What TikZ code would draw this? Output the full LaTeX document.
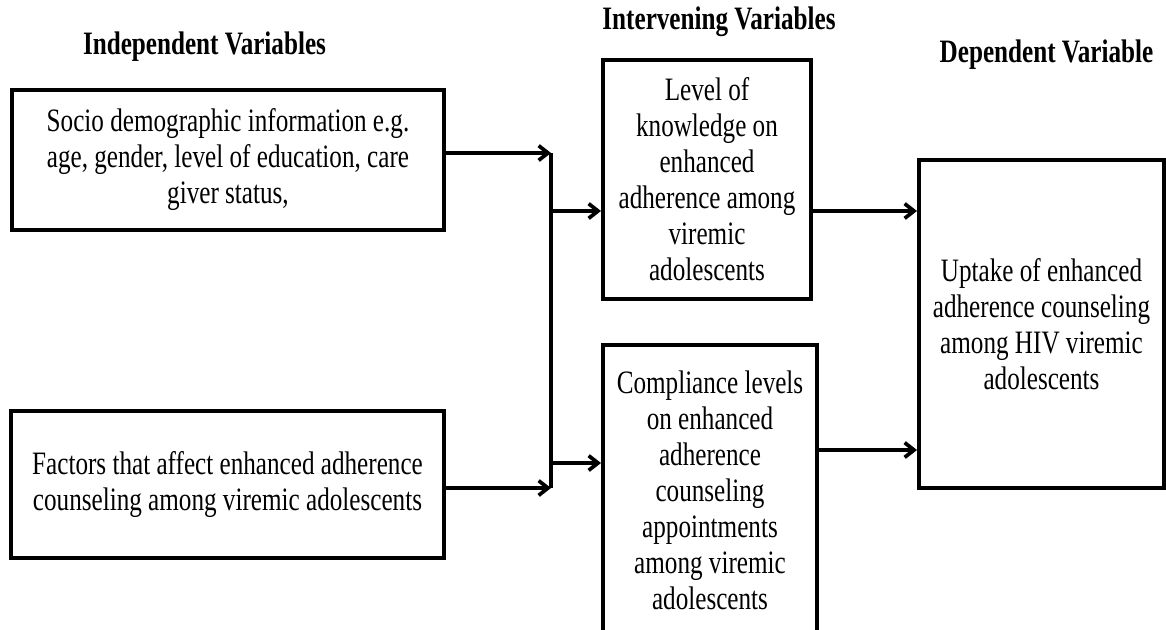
\documentclass[tikz,border=0pt]{standalone}
\usepackage{fontspec}
\setmainfont[FakeStretch=0.77]{Liberation Serif}
\usetikzlibrary{
	arrows.meta,
	positioning
}

\begin{document}
\begin{tikzpicture}[x=0.75pt,y=-0.75pt,
					box/.style={
					rectangle, draw, line width=3pt,
					inner sep=0pt, align=center,
					font=\fontsize{24.5}{27}\selectfont
				},
				headbox/.style={
					inner sep=0pt, font=\bfseries\fontsize{24.5}{27}\selectfont
				},
				arrow/.style={-{Straight Barb[length=7pt,width=11pt]}, line width=2.8pt},
				link/.style={line width=2.8pt},
				]
				
				\useasboundingbox (0,0) rectangle (1166,629);
				
				%headings
				\node[headbox] (indephead) at (204.5,47) {Independent Variables};
				\node[headbox] (intervhead) at (719,22) {Intervening Variables};
				\node[headbox] (dephead) at (1046.5,55) {Dependent Variable};
				
				%independent set
				\node[box, minimum width=324pt, minimum height=105pt] (socio) at (228,160) {Socio demographic information e.g.\\ age, gender, level of education, care\\ giver status,};
				\node[box, minimum width=324.75pt, minimum height=110.25pt] (factors) at (227.5,484.5) {Factors that affect enhanced adherence\\ counseling among viremic adolescents};
				
				%intervening set
				\node[box, minimum width=156pt, minimum height=179.25pt] (knowledge) at (707,179.5) {Level of\\ knowledge on\\ enhanced\\ adherence among\\ viremic\\ adolescents};
				\node[box, minimum width=160.5pt, minimum height=218.25pt] (compliance) at (710,490.5) {Compliance levels\\ on enhanced\\ adherence\\ counseling\\ appointments\\ among viremic\\ adolescents};
				
				%dependent
				\node[box, minimum width=183.75pt, minimum height=246pt] (uptake) at (1041.5,324) {Uptake of enhanced\\ adherence counseling\\ among HIV viremic\\ adolescents};
				
				%joints
				\coordinate (jtop) at (551,153);
				\coordinate (jbot) at (551,488);
				\coordinate (jknow) at (551,211);
				\coordinate (jcomp) at (551,463);
				\coordinate (jout) at (551,450);
				
				\draw[arrow] (socio.east |- jtop) -- (jtop);
				\draw[arrow] (factors.east |- jbot) -- (jbot);
				\draw[link] (jtop) -- (jbot);
				\draw[arrow] (jknow) -- (knowledge.west |- jknow);
				\draw[arrow] (jcomp) -- (compliance.west |- jcomp);
				
				\draw[arrow] (knowledge.east |- jknow) -- (uptake.west |- jknow);
				\draw[arrow] (compliance.east |- jout) -- (uptake.west |- jout);
			\end{tikzpicture}
\end{document}
